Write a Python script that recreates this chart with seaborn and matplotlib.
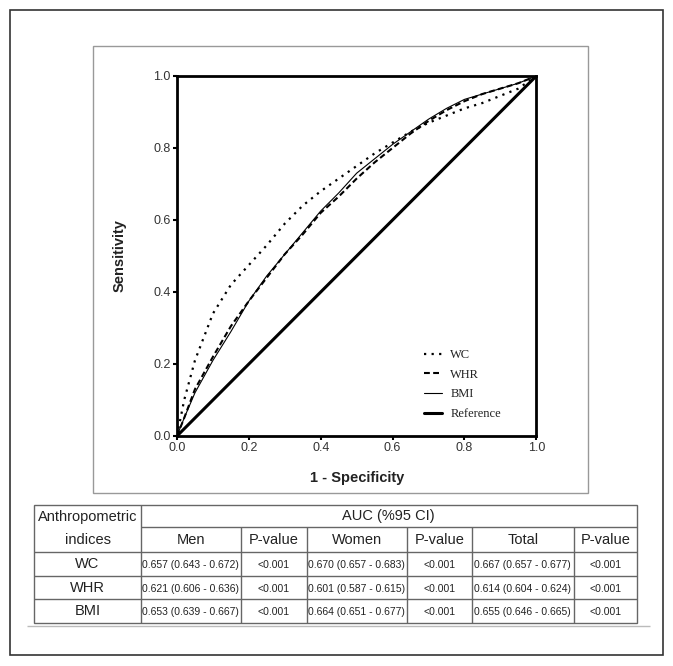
import numpy as np
import pandas as pd
import matplotlib
matplotlib.use("Agg")
import matplotlib.pyplot as plt
import matplotlib.patches as patches
import seaborn as sns

sns.set_theme(style="white")
plt.rcParams['font.family'] = ['Liberation Sans', 'DejaVu Sans']

# -------------------------------------------------------------------
# ROC curve data
# -------------------------------------------------------------------
fpr = [0, 0.02, 0.05, 0.1, 0.15, 0.2, 0.25, 0.3, 0.35, 0.4, 0.45,
       0.5, 0.55, 0.6, 0.65, 0.7, 0.75, 0.8, 0.85, 0.9, 0.95, 1.0]
wc_tpr = [0, 0.10, 0.21, 0.34, 0.42, 0.475, 0.53, 0.59, 0.64, 0.68, 0.715,
          0.75, 0.785, 0.815, 0.845, 0.87, 0.89, 0.91, 0.925, 0.945, 0.965, 1.0]
whr_tpr = [0, 0.05, 0.13, 0.22, 0.305, 0.375, 0.44, 0.505, 0.56, 0.62, 0.665,
           0.715, 0.76, 0.80, 0.84, 0.875, 0.905, 0.93, 0.95, 0.965, 0.98, 1.0]
bmi_tpr = [0, 0.05, 0.12, 0.21, 0.29, 0.375, 0.445, 0.505, 0.565, 0.625, 0.675,
           0.73, 0.77, 0.81, 0.845, 0.88, 0.91, 0.935, 0.95, 0.965, 0.98, 1.0]
ref_x = [0, 1]
ref_y = [0, 1]

ticks = [0.0, 0.2, 0.4, 0.6, 0.8, 1.0]

# -------------------------------------------------------------------
# Table data
# -------------------------------------------------------------------
indices = ["WC", "WHR", "BMI"]
men_auc = ["0.657 (0.643 - 0.672)", "0.621 (0.606 - 0.636)", "0.653 (0.639 - 0.667)"]
women_auc = ["0.670 (0.657 - 0.683)", "0.601 (0.587 - 0.615)", "0.664 (0.651 - 0.677)"]
total_auc = ["0.667 (0.657 - 0.677)", "0.614 (0.604 - 0.624)", "0.655 (0.646 - 0.665)"]
men_p = ["<0.001", "<0.001", "<0.001"]
women_p = ["<0.001", "<0.001", "<0.001"]
total_p = ["<0.001", "<0.001", "<0.001"]
sub_headers = ["Men", "P-value", "Women", "P-value", "Total", "P-value"]

W, H = 673, 666
fig = plt.figure(figsize=(W / 100, H / 100), dpi=100)

# -------------------------------------------------------------------
# ROC plot
# -------------------------------------------------------------------
ax = fig.add_axes([177 / W, 1 - 436 / H, 359.3 / W, 360 / H])
sns.lineplot(x=fpr, y=wc_tpr, ax=ax, color="black", lw=1.6,
             linestyle=(0, (1, 2.4)), sort=False, estimator=None)
sns.lineplot(x=fpr, y=whr_tpr, ax=ax, color="black", lw=1.5,
             linestyle=(0, (2.8, 1.6)), sort=False, estimator=None)
sns.lineplot(x=fpr, y=bmi_tpr, ax=ax, color="black", lw=0.8,
             sort=False, estimator=None)
sns.lineplot(x=ref_x, y=ref_y, ax=ax, color="black", lw=2.2,
             sort=False, estimator=None)

ax.set_xlim(0, 1)
ax.set_ylim(0, 1)
ax.set_xticks(ticks)
ax.set_yticks(ticks)
ax.set_xticklabels([f"{t:.1f}" for t in ticks])
ax.set_yticklabels([f"{t:.1f}" for t in ticks])
ax.tick_params(direction="out", length=3, width=1.5, color="black",
               labelsize=9, labelcolor="#333333", pad=1.5,
               bottom=True, left=True)
for s in ax.spines.values():
    s.set_linewidth(2)
    s.set_color("black")

ax.set_xlabel("1 - Specificity", fontsize=10.5, fontweight="bold", color="#222222")
ax.set_ylabel("Sensitivity", fontsize=10.5, fontweight="bold", color="#222222")
ax.xaxis.set_label_coords(0.5, -0.097)
ax.yaxis.set_label_coords(-0.141, 0.5)

lines = ax.get_lines()
ax.legend(lines, ["WC", "WHR", "BMI", "Reference"], loc="upper left",
          bbox_to_anchor=(0.688, 0.242), frameon=False,
          prop={"family": "Liberation Serif", "size": 9},
          handlelength=1.45, handletextpad=0.64, labelspacing=0.62,
          borderaxespad=0, borderpad=0, labelcolor="#222222")

# -------------------------------------------------------------------
# Frames and table (drawn in pixel coordinates)
# -------------------------------------------------------------------
over = fig.add_axes([0, 0, 1, 1], zorder=-1)
over.set_xlim(0, W)
over.set_ylim(H, 0)
over.axis("off")

over.add_patch(patches.Rectangle((10, 10), 653, 645, fill=False,
                                 edgecolor="#333333", lw=1.2))
over.add_patch(patches.Rectangle((93, 46), 495, 447, fill=False,
                                 edgecolor="#999999", lw=1))

tab = fig.add_axes([0, 0, 1, 1])
tab.set_xlim(0, W)
tab.set_ylim(H, 0)
tab.axis("off")

lc = "#666666"
x0, x1 = 34.3, 636.7
col_x = [140.7, 241, 306.7, 407, 471.7, 574]
y_top, y_auc, y_head, y_bot = 505, 527.3, 551.7, 622.7
row_lines = [576, 599]

tab.add_patch(patches.Rectangle((x0, y_top), x1 - x0, y_bot - y_top,
                                fill=False, edgecolor=lc, lw=1))
tab.hlines(y_auc, col_x[0], x1, color=lc, lw=1)
tab.hlines([y_head] + row_lines, x0, x1, color=lc, lw=1)
tab.vlines(col_x[0], y_top, y_bot, color=lc, lw=1)
tab.vlines(col_x[1:], y_auc, y_bot, color=lc, lw=1)
tab.hlines(626, 27, 650, color="#bbbbbb", lw=1)

tc = "#222222"
tab.text((x0 + col_x[0]) / 2, 517, "Anthropometric", ha="center", va="center",
         fontsize=10.5, color=tc)
tab.text((x0 + col_x[0]) / 2, 540, "indices", ha="center", va="center",
         fontsize=10.5, color=tc)
tab.text((col_x[0] + x1) / 2, 516, "AUC (%95 CI)", ha="center", va="center",
         fontsize=10.5, color=tc)

edges = col_x + [x1]
centers = [(edges[i] + edges[i + 1]) / 2 for i in range(6)]
for c, h in zip(centers, sub_headers):
    tab.text(c, 540, h, ha="center", va="center", fontsize=10.5, color=tc)

row_y = [564, 587.5, 611]
for i, name in enumerate(indices):
    y = row_y[i]
    tab.text((x0 + col_x[0]) / 2, y, name, ha="center", va="center",
             fontsize=10.5, color=tc)
    vals = [men_auc[i], men_p[i], women_auc[i], women_p[i], total_auc[i], total_p[i]]
    for c, v in zip(centers, vals):
        tab.text(c, y + 1, v, ha="center", va="center", fontsize=7.5, color=tc)

fig.savefig("out.png", dpi=100, facecolor="white")
